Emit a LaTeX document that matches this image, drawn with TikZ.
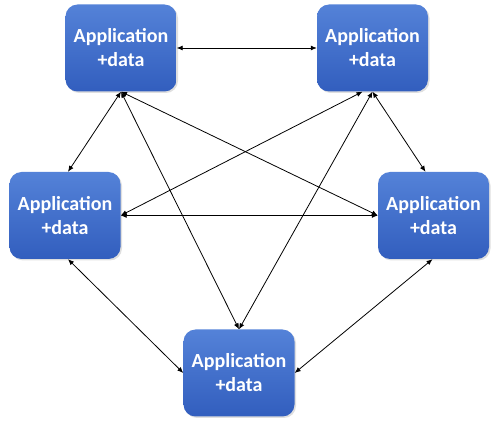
\documentclass[tikz,border=0pt]{standalone}
\usepackage{fontspec}
\setmainfont{Carlito}
\usepackage{tikz}
\usetikzlibrary{arrows.meta,shadows}
\definecolor{apptop}{RGB}{84,130,216}
\definecolor{appbot}{RGB}{50,94,190}

\begin{document}
\begin{tikzpicture}[
  x=1pt, y=-1pt,
  app/.style={rounded corners=12pt,align=center,top color=apptop,bottom color=appbot,
    minimum width=111pt,minimum height=87pt,inner sep=0pt,text=white,
    font=\fontsize{20}{24}\selectfont\bfseries,
    drop shadow={opacity=0.25,shadow xshift=1.5pt,shadow yshift=-1.5pt}},
  arr/.style={{Latex[length=6pt,width=5pt]}-{Latex[length=6pt,width=5pt]},line width=0.8pt}
]
\useasboundingbox (0,0) rectangle (499,425);
\node[app] (appnw) at (121,48) {Application\\+data};
\node[app] (appne) at (372.5,48) {Application\\+data};
\node[app] (appw) at (65,215.5) {Application\\+data};
\node[app] (appe) at (433.5,215.5) {Application\\+data};
\node[app] (apps) at (239,373) {Application\\+data};

\draw[arr] (appnw.east) -- (appne.west);
\draw[arr] (appw.east) -- (appe.west);
\draw[arr] (appnw.south) -- ([xshift=3pt]appw.north);
\draw[arr] (appnw.south) -- (apps.north);
\draw[arr] (appnw.south) -- (appe.west);
\draw[arr] ([xshift=-10pt]appne.south) -- (appw.east);
\draw[arr] (appne.south) -- (apps.north);
\draw[arr] (appne.south) -- ([xshift=-8pt]appe.north);
\draw[arr] ([xshift=3pt]appw.south) -- (apps.west);
\draw[arr] ([xshift=-1pt]appe.south) -- (apps.east);
\end{tikzpicture}
\end{document}
